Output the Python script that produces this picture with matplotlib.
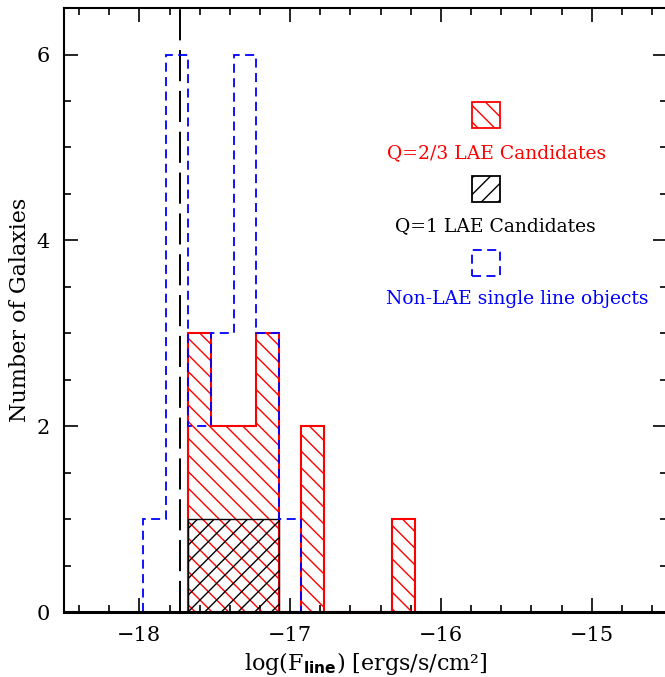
import matplotlib
matplotlib.use("Agg")
import matplotlib.pyplot as plt
from matplotlib.patches import Rectangle
from matplotlib.ticker import MultipleLocator
import numpy as np

plt.rcParams['font.family'] = ['DejaVu Serif']
plt.rcParams['mathtext.fontset'] = 'custom'
plt.rcParams['mathtext.rm'] = 'DejaVu Serif'
plt.rcParams['mathtext.bf'] = 'DejaVu Sans:bold'
plt.rcParams['hatch.linewidth'] = 1.0

# histogram bins (log line flux), common grid for all samples
bin_start = -17.975
bin_width = 0.15
# counts per bin
nonlae_counts = [1, 6, 2, 3, 6, 3, 1, 0, 0, 0, 0, 0]
q23_counts = [0, 0, 3, 2, 2, 3, 0, 2, 0, 0, 0, 1]
q1_counts = [0, 0, 1, 1, 1, 1, 0, 0, 0, 0, 0, 0]
flux_limit = -17.73

legend_labels = ["Q=2/3 LAE Candidates", "Q=1 LAE Candidates",
                 "Non-LAE single line objects"]

edges = bin_start + bin_width * np.arange(len(q23_counts) + 1)


def trimmed(counts):
    """ drop leading / trailing empty bins so no outline runs along zero """
    c = np.asarray(counts, dtype=float)
    nz = np.nonzero(c)[0]
    lo, hi = nz[0], nz[-1] + 1
    return c[lo:hi], edges[lo:hi + 1]


fig = plt.figure(figsize=(6.65, 6.77), dpi=100)
ax = fig.add_axes([0.0962, 0.096, 0.907, 0.892])

v, e = trimmed(q23_counts)
ax.stairs(v, e, fill=True, facecolor='none', edgecolor='red',
          hatch='\\\\', linewidth=1.5, zorder=2)
v, e = trimmed(q1_counts)
ax.stairs(v, e, fill=True, facecolor='none', edgecolor='black',
          hatch='//', linewidth=1.0, zorder=3)
v, e = trimmed(nonlae_counts)
ax.stairs(v, e, edgecolor='blue', linestyle=(0, (5, 3)), linewidth=1.3,
          zorder=4)

ax.axvline(flux_limit, color='black', linewidth=1.4,
           linestyle=(0, (16, 5)), zorder=1)

ax.set_xlim(-18.5, -14.5)
ax.set_ylim(0, 6.5)
ax.xaxis.set_major_locator(MultipleLocator(1))
ax.xaxis.set_minor_locator(MultipleLocator(0.2))
ax.yaxis.set_major_locator(MultipleLocator(2))
ax.yaxis.set_minor_locator(MultipleLocator(0.5))
ax.tick_params(which='both', direction='in', top=True, right=True,
               labelsize=15, width=1.2)
ax.tick_params(which='major', length=10, pad=10)
ax.tick_params(which='minor', length=5)
for side in ['left', 'top', 'right']:
    ax.spines[side].set_linewidth(1.5)
ax.spines['bottom'].set_linewidth(2.2)
for s in ax.spines.values():
    s.set_zorder(5)

ax.set_xlabel(r'log(F$_{\mathbf{line}}$) [ergs/s/cm²]', fontsize=16,
              labelpad=4)
ax.set_ylabel('Number of Galaxies', fontsize=16, labelpad=4)

# hand-made legend (boxes + labels), in axes coordinates
box_w, box_h = 0.046, 0.043
ax.add_patch(Rectangle((0.677, 0.801), box_w, box_h, transform=ax.transAxes,
                       facecolor='none', edgecolor='red', hatch='\\\\',
                       linewidth=1.3))
ax.text(0.718, 0.760, legend_labels[0], color='red', fontsize=13.5,
        ha='center', va='center', transform=ax.transAxes)
ax.add_patch(Rectangle((0.677, 0.679), box_w, box_h, transform=ax.transAxes,
                       facecolor='none', edgecolor='black', hatch='//',
                       linewidth=1.3))
ax.text(0.716, 0.639, legend_labels[1], color='black', fontsize=13.5,
        ha='center', va='center', transform=ax.transAxes)
ax.add_patch(Rectangle((0.677, 0.556), box_w, box_h, transform=ax.transAxes,
                       facecolor='none', edgecolor='blue',
                       linestyle=(0, (5, 3)), linewidth=1.3))
ax.text(0.751, 0.518, legend_labels[2], color='blue', fontsize=13.5,
        ha='center', va='center', transform=ax.transAxes)

fig.savefig('out.png', dpi=100)
